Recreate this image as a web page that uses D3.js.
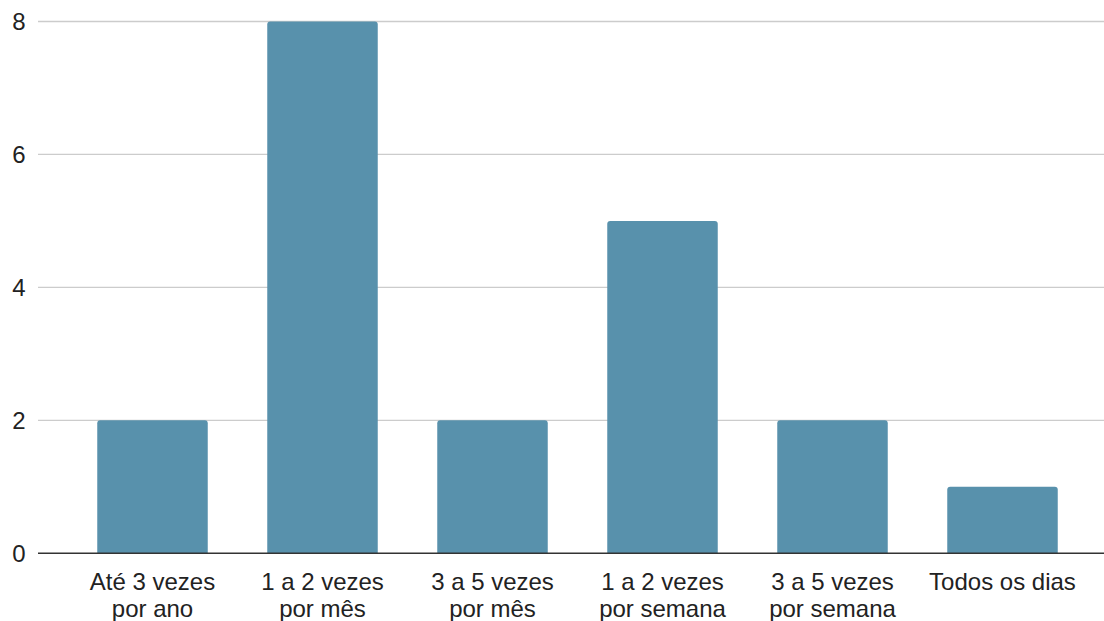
<!DOCTYPE html>
<html>
<head>
<meta charset="utf-8">
<script src="https://cdn.jsdelivr.net/npm/d3@7/dist/d3.min.js"></script>
<style>
  html, body { margin: 0; padding: 0; background: #fff; }
  svg { display: block; font-family: "Liberation Sans", Arial, sans-serif; }
</style>
</head>
<body>
<svg id="chart" width="1104" height="621"></svg>
<script>
// Frequency categories (two-line labels) and their counts
const categories = [
  ["Até 3 vezes", "por ano"],
  ["1 a 2 vezes", "por mês"],
  ["3 a 5 vezes", "por mês"],
  ["1 a 2 vezes", "por semana"],
  ["3 a 5 vezes", "por semana"],
  ["Todos os dias"]
];
const values = [2, 8, 2, 5, 2, 1];
const yTicks = [0, 2, 4, 6, 8];

const svg = d3.select("#chart");
const gridLeft = 38, gridRight = 1104;
const yBottom = 553.3, yTop = 21.5;
const fontSize = 24;

const keys = categories.map((c, i) => i);
const x = d3.scaleBand()
  .domain(keys)
  .range([67.5, 1087.5])
  .paddingInner(0.35)
  .paddingOuter(0.175);

const y = d3.scaleLinear().domain([0, 8]).range([yBottom, yTop]);

// Horizontal gridlines
svg.append("g")
  .selectAll("line")
  .data(yTicks.filter(t => t !== 0))
  .join("line")
  .attr("x1", gridLeft).attr("x2", gridRight)
  .attr("y1", d => y(d)).attr("y2", d => y(d))
  .attr("stroke", "#cccccc").attr("stroke-width", 1.3);

// Y tick labels
svg.append("g")
  .selectAll("text")
  .data(yTicks)
  .join("text")
  .attr("x", 25.5)
  .attr("y", d => y(d))
  .attr("dy", "0.35em")
  .attr("text-anchor", "end")
  .attr("font-size", fontSize)
  .attr("fill", "#222")
  .text(d => d);

// Bars with slightly rounded top corners
const r = 3;
svg.append("g")
  .selectAll("path")
  .data(values)
  .join("path")
  .attr("fill", "#5891ac")
  .attr("d", (v, i) => {
    const x0 = x(i), w = x.bandwidth();
    const yt = y(v), yb = y(0);
    return `M${x0},${yb}V${yt + r}Q${x0},${yt} ${x0 + r},${yt}` +
           `H${x0 + w - r}Q${x0 + w},${yt} ${x0 + w},${yt + r}V${yb}Z`;
  });

// Baseline
svg.append("line")
  .attr("x1", gridLeft).attr("x2", gridRight)
  .attr("y1", y(0)).attr("y2", y(0))
  .attr("stroke", "#333").attr("stroke-width", 1.6);

// Category labels
const lbl = svg.append("g")
  .selectAll("text")
  .data(categories)
  .join("text")
  .attr("x", (c, i) => x(i) + x.bandwidth() / 2)
  .attr("y", 589.5)
  .attr("text-anchor", "middle")
  .attr("font-size", fontSize)
  .attr("fill", "#222");
lbl.selectAll("tspan")
  .data(c => c)
  .join("tspan")
  .attr("x", function () { return this.parentNode.getAttribute("x"); })
  .attr("dy", (d, j) => j === 0 ? 0 : 27)
  .text(d => d);
</script>
</body>
</html>
